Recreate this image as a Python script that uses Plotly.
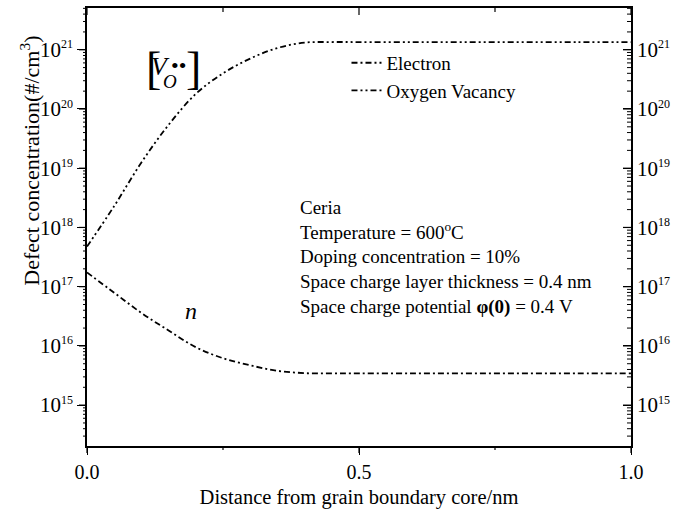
import math
import plotly.graph_objects as go

# Distance from the grain boundary core (nm)
distance_nm = [0.0, 0.05, 0.10, 0.15, 0.20, 0.25, 0.30, 0.35, 0.40, 0.45, 0.50,
               0.60, 0.70, 0.80, 0.90, 1.00]

# Electron concentration n (#/cm^3)
electron = [1.74e17, 7.9e16, 3.6e16, 1.82e16, 9.5e15, 6.2e15, 4.7e15, 3.8e15,
            3.47e15, 3.43e15, 3.43e15, 3.43e15, 3.43e15, 3.43e15, 3.43e15, 3.43e15]

# Oxygen vacancy concentration [V_O..] (#/cm^3)
vacancy = [4.75e17, 2.3e18, 1.25e19, 5.4e19, 1.8e20, 4.0e20, 7.1e20, 1.07e21,
           1.32e21, 1.35e21, 1.35e21, 1.35e21, 1.35e21, 1.35e21, 1.35e21, 1.35e21]

x_ticks = [0.0, 0.5, 1.0]
x_minor = [0.25, 0.75]
x_tick_text = ["0.0", "0.5", "1.0"]
y_exponents = [15, 16, 17, 18, 19, 20, 21]

FONT = "Liberation Serif"
BLACK = "black"

y_range = [14.31, 21.705]
x_range = [0.0, 1.0]

y_major = [10.0 ** e for e in y_exponents]
y_major_text = ["10<sup><span style='font-size:12px'>%d</span></sup>" % e
                for e in y_exponents]
# minor log ticks at 2..9 x 10^k inside the axis range
y_minor = [m * 10.0 ** k for k in range(14, 22) for m in range(2, 10)
           if y_range[0] <= math.log10(m * 10.0 ** k) <= y_range[1]]

fig = go.Figure()

fig.add_trace(go.Scatter(
    x=distance_nm, y=electron, name="Electron", mode="lines",
    line=dict(color=BLACK, width=1.8, shape="spline",
              dash="6px,3px,2px,3px"),
))
fig.add_trace(go.Scatter(
    x=distance_nm, y=vacancy, name="Oxygen Vacancy", mode="lines",
    line=dict(color=BLACK, width=1.8, shape="spline",
              dash="6px,3px,2px,3px,2px,3px"),
))
# empty trace that registers the right-hand label axis
fig.add_trace(go.Scatter(x=[], y=[], xaxis="x", yaxis="y2",
                         showlegend=False, hoverinfo="skip"))

axis_common = dict(showline=True, linecolor=BLACK, linewidth=1.5,
                   showgrid=False, zeroline=False, tickcolor=BLACK,
                   tickwidth=1.2, automargin=False)

fig.update_layout(
    template="none",
    width=688, height=509,
    margin=dict(l=87, r=57, t=8, b=63),
    paper_bgcolor="white", plot_bgcolor="white",
    font=dict(family=FONT, size=19, color=BLACK),
    xaxis=dict(**axis_common, range=x_range, tickmode="array",
               tickvals=x_ticks, ticktext=x_tick_text, ticks="outside",
               ticklen=7, mirror=True,
               title=dict(text="Distance from grain boundary core/nm",
                          font=dict(size=20.5), standoff=8),
               tickfont=dict(size=20)),
    yaxis=dict(**axis_common, type="log", range=y_range, tickmode="array",
               tickvals=y_major, ticktext=y_major_text, mirror=True,
               ticks="outside", ticklen=8, tickfont=dict(size=21)),
    yaxis2=dict(**axis_common, type="log", range=y_range, tickmode="array",
                tickvals=y_major, ticktext=y_major_text, overlaying="y",
                side="right", anchor="x", ticks="inside", ticklen=8,
                tickfont=dict(size=21)),
    legend=dict(x=0.477, y=0.918, xanchor="left", yanchor="top",
                bgcolor="rgba(0,0,0,0)", font=dict(size=19),
                tracegroupgap=0),
    showlegend=True,
)

# Tick marks: outward on the bottom/left axes, inward on the top/right ones
def y_frac(v):
    return (math.log10(v) - y_range[0]) / (y_range[1] - y_range[0])

def x_frac(v):
    return (v - x_range[0]) / (x_range[1] - x_range[0])

def y_tick(v, length, width):
    p = y_frac(v)
    for anchor in (0, 1):
        fig.add_shape(type="line", xref="paper", yref="paper",
                      xsizemode="pixel", xanchor=anchor, x0=-length, x1=0,
                      y0=p, y1=p, layer="above",
                      line=dict(color=BLACK, width=width))

def x_tick(v, length, width):
    p = x_frac(v)
    for anchor, y0 in ((0, -length), (1, -length)):
        fig.add_shape(type="line", xref="paper", yref="paper",
                      ysizemode="pixel", yanchor=anchor, y0=y0, y1=0,
                      x0=p, x1=p, layer="above",
                      line=dict(color=BLACK, width=width))

for v in y_major:
    y_tick(v, 8, 1.2)
for v in y_minor:
    y_tick(v, 4, 1)
for v in x_ticks:
    x_tick(v, 7, 1.2)
for v in x_minor:
    x_tick(v, 4, 1.2)

def ann(text, x, y, size, xanchor="center", yanchor="middle", **kw):
    fig.add_annotation(text=text, x=x, y=y, xref="paper", yref="paper",
                       xanchor=xanchor, yanchor=yanchor, showarrow=False,
                       font=dict(family=FONT, size=size, color=BLACK), **kw)

# Y axis title, set beside the upper decades
ann("Defect concentration(#/cm<sup>3</sup>)", -0.105, 0.651, 22,
    textangle=-90)

# Species label for the oxygen vacancy curve
ann("[", 0.123, 0.862, 46)
ann("<i>V</i>", 0.136, 0.866, 26)
ann("<i>O</i>", 0.1526, 0.833, 19)
ann("••", 0.169, 0.868, 22)
ann("]", 0.196, 0.862, 46)

# Species label for the electron curve
ann("<i>n</i>", 0.191, 0.308, 24)

# Model parameters
ann("Ceria<br>Temperature = 600<sup>o</sup>C<br>Doping concentration = 10%"
    "<br>Space charge layer thickness = 0.4 nm"
    "<br>Space charge potential <b>φ(0)</b> = 0.4 V",
    0.388, 0.430, 19, xanchor="left", yanchor="middle", align="left")

fig.write_html("out.html")
